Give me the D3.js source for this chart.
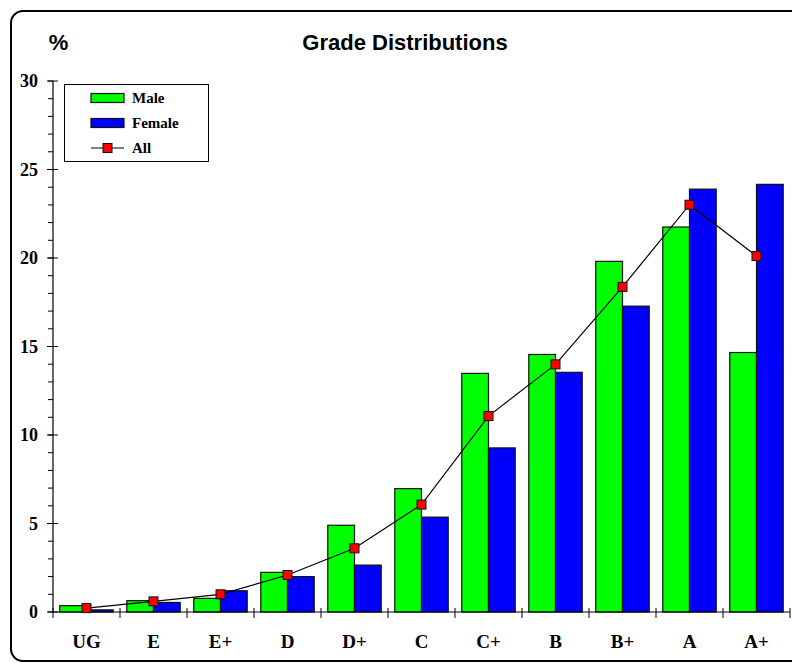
<!DOCTYPE html>
<html>
<head>
<meta charset="utf-8">
<script src="https://cdn.jsdelivr.net/npm/d3@7"></script>
<style>
  body { margin: 0; background: #fff; }
  svg { display: block; }
</style>
</head>
<body>
<svg id="chart"></svg>
<script>
const grades = ['UG', 'E', 'E+', 'D', 'D+', 'C', 'C+', 'B', 'B+', 'A', 'A+'];
const male = [0.36, 0.64, 0.77, 2.24, 4.9, 6.97, 13.48, 14.55, 19.81, 21.75, 14.66];
const female = [0.12, 0.54, 1.2, 2.0, 2.65, 5.36, 9.27, 13.54, 17.28, 23.89, 24.16];
const all = [0.22, 0.6, 1.0, 2.09, 3.6, 6.07, 11.07, 13.99, 18.37, 23.01, 20.11];
const yTicks = [0, 5, 10, 15, 20, 25, 30];
const seriesNames = ['Male', 'Female'];
const colors = { Male: '#00ff00', Female: '#0000ff', All: '#ff0000' };

const width = 792;
const height = 663;
const plotLeft = 53, plotRight = 790, plotTop = 81, plotBottom = 612;

const svg = d3.select('#chart').attr('width', width).attr('height', height);

// frame
svg.append('rect')
  .attr('x', 11).attr('y', 11)
  .attr('width', 810).attr('height', 650)
  .attr('rx', 12).attr('ry', 12)
  .attr('fill', 'none').attr('stroke', '#000').attr('stroke-width', 2);

const x0 = d3.scaleBand().domain(grades).range([plotLeft, plotRight]).padding(0);
const x1 = d3.scaleBand().domain(seriesNames).range([0, x0.bandwidth()]).paddingInner(0).paddingOuter(0.254);
const y = d3.scaleLinear().domain([0, 30]).range([plotBottom, plotTop]);

const serifFont = '"Liberation Serif", "Times New Roman", serif';
const sansFont = '"Liberation Sans", Arial, sans-serif';

// title
svg.append('text')
  .attr('x', 405).attr('y', 50)
  .attr('text-anchor', 'middle')
  .style('font-family', sansFont)
  .style('font-weight', 'bold')
  .style('font-size', '22px')
  .text('Grade Distributions');

svg.append('text')
  .attr('x', 58.5).attr('y', 50)
  .attr('text-anchor', 'middle')
  .style('font-family', sansFont)
  .style('font-weight', 'bold')
  .style('font-size', '22px')
  .text('%');

// bars
const data = grades.map((g, i) => ({ grade: g, Male: male[i], Female: female[i], All: all[i] }));

const groups = svg.append('g').selectAll('g')
  .data(data)
  .enter()
  .append('g')
  .attr('transform', d => `translate(${x0(d.grade)},0)`);

groups.selectAll('rect')
  .data(d => seriesNames.map(k => ({ key: k, value: d[k] })))
  .enter()
  .append('rect')
  .attr('x', d => x1(d.key))
  .attr('y', d => y(d.value))
  .attr('width', x1.bandwidth())
  .attr('height', d => y(0) - y(d.value))
  .attr('fill', d => colors[d.key])
  .attr('stroke', '#111')
  .attr('stroke-width', 1.2);

// y axis
const yAxis = svg.append('g');
yAxis.append('line')
  .attr('x1', plotLeft).attr('x2', plotLeft).attr('y1', plotBottom).attr('y2', plotTop)
  .attr('stroke', '#000').attr('stroke-width', 1.2);
yAxis.selectAll('.minor')
  .data(d3.range(0, 31))
  .enter()
  .append('line')
  .attr('x1', plotLeft - 5).attr('x2', plotLeft)
  .attr('y1', d => y(d)).attr('y2', d => y(d))
  .attr('stroke', '#000');
yAxis.selectAll('.major')
  .data(yTicks)
  .enter()
  .append('line')
  .attr('x1', plotLeft - 6).attr('x2', plotLeft + 5)
  .attr('y1', d => y(d)).attr('y2', d => y(d))
  .attr('stroke', '#000');
yAxis.selectAll('text')
  .data(yTicks)
  .enter()
  .append('text')
  .attr('x', 38).attr('y', d => y(d) + 6)
  .attr('text-anchor', 'end')
  .style('font-family', serifFont)
  .style('font-weight', 'bold')
  .style('font-size', '18px')
  .text(d => d);

// x axis
const xAxis = svg.append('g');
xAxis.append('line')
  .attr('x1', plotLeft).attr('x2', plotRight).attr('y1', plotBottom).attr('y2', plotBottom)
  .attr('stroke', '#000').attr('stroke-width', 1.2);
xAxis.selectAll('.tick')
  .data(grades.map(g => x0(g)).concat([plotRight]))
  .enter()
  .append('line')
  .attr('x1', d => d).attr('x2', d => d)
  .attr('y1', plotBottom - 4).attr('y2', plotBottom + 6)
  .attr('stroke', '#000');
xAxis.selectAll('text')
  .data(grades)
  .enter()
  .append('text')
  .attr('x', d => x0(d) + x0.bandwidth() / 2)
  .attr('y', 647.5)
  .attr('text-anchor', 'middle')
  .style('font-family', serifFont)
  .style('font-weight', 'bold')
  .style('font-size', '19px')
  .text(d => d);

// "All" line
const cx = d => x0(d.grade) + x0.bandwidth() / 2;
svg.append('path')
  .datum(data)
  .attr('fill', 'none')
  .attr('stroke', '#000')
  .attr('stroke-width', 1.2)
  .attr('d', d3.line().x(cx).y(d => y(d.All)));

svg.append('g').selectAll('rect')
  .data(data)
  .enter()
  .append('rect')
  .attr('x', d => cx(d) - 4.5)
  .attr('y', d => y(d.All) - 4.5)
  .attr('width', 9).attr('height', 9)
  .attr('fill', colors.All)
  .attr('stroke', '#111')
  .attr('stroke-width', 1);

// legend
const legend = svg.append('g');
legend.append('rect')
  .attr('x', 64.5).attr('y', 84.5)
  .attr('width', 144).attr('height', 77)
  .attr('fill', '#fff').attr('stroke', '#000').attr('stroke-width', 1);

const legendItems = ['Male', 'Female', 'All'];
legendItems.forEach((k, i) => {
  const ly = 98 + i * 25;
  if (k === 'All') {
    legend.append('line')
      .attr('x1', 91).attr('x2', 124).attr('y1', ly).attr('y2', ly)
      .attr('stroke', '#000').attr('stroke-width', 1.2);
    legend.append('rect')
      .attr('x', 103).attr('y', ly - 4.5).attr('width', 9).attr('height', 9)
      .attr('fill', colors.All).attr('stroke', '#111');
  } else {
    legend.append('rect')
      .attr('x', 91).attr('y', ly - 4.5).attr('width', 33).attr('height', 9)
      .attr('fill', colors[k]).attr('stroke', '#111').attr('stroke-width', 1.2);
  }
  legend.append('text')
    .attr('x', 132).attr('y', ly + 5)
    .style('font-family', serifFont)
    .style('font-weight', 'bold')
    .style('font-size', '15px')
    .text(k);
});
</script>
</body>
</html>
